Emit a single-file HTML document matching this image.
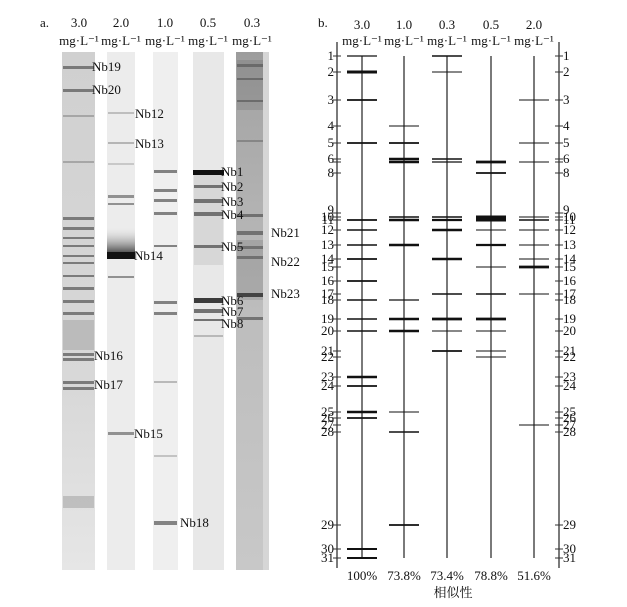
<!DOCTYPE html>
<html><head><style>
html,body{margin:0;padding:0;background:#fff;width:627px;height:607px;overflow:hidden}
svg{display:block;font-family:"Liberation Serif","Noto Serif CJK SC",serif}
</style></head><body>
<svg width="627" height="607" viewBox="0 0 627 607" xmlns="http://www.w3.org/2000/svg">
<defs>
<linearGradient id="g5" x1="0" y1="0" x2="0" y2="1">
<stop offset="0" stop-color="#9c9c9c"/><stop offset="0.12" stop-color="#a8a8a8"/><stop offset="0.5" stop-color="#bdbdbd"/><stop offset="1" stop-color="#c8c8c8"/></linearGradient>
<linearGradient id="g1" x1="0" y1="0" x2="0" y2="1">
<stop offset="0" stop-color="#d0d0d0"/><stop offset="0.65" stop-color="#d8d8d8"/><stop offset="1" stop-color="#e6e6e6"/></linearGradient>
<linearGradient id="smear" x1="0" y1="0" x2="0" y2="1">
<stop offset="0" stop-color="#fff" stop-opacity="0"/><stop offset="1" stop-color="#222" stop-opacity="0.8"/></linearGradient>
</defs>
<g font-size="13" fill="#111">
<text x="40" y="27">a.</text>
<g text-anchor="middle">
<text x="79" y="27">3.0</text><text x="79" y="45">mg·L⁻¹</text>
<text x="121" y="27">2.0</text><text x="121" y="45">mg·L⁻¹</text>
<text x="165" y="27">1.0</text><text x="165" y="45">mg·L⁻¹</text>
<text x="208" y="27">0.5</text><text x="208" y="45">mg·L⁻¹</text>
<text x="252" y="27">0.3</text><text x="252" y="45">mg·L⁻¹</text>
</g></g>
<rect x="62" y="52" width="33" height="518" fill="url(#g1)"/>
<rect x="107" y="52" width="28" height="518" fill="#ececec"/>
<rect x="153" y="52" width="25" height="518" fill="#efefef"/>
<rect x="193" y="52" width="31" height="518" fill="#e8e8e8"/>
<rect x="236" y="52" width="33" height="518" fill="url(#g5)"/>
<rect x="263" y="52" width="6" height="518" fill="#d6d6d6"/>
<g fill="#555">
<g opacity="0.7">
<rect x="63" y="66" width="31" height="3"/><rect x="63" y="89" width="31" height="3"/><rect x="63" y="115" width="31" height="2" opacity=".5"/><rect x="63" y="161" width="31" height="2" opacity=".5"/>
<rect x="63" y="217" width="31" height="3"/><rect x="63" y="227" width="31" height="3"/><rect x="63" y="237" width="31" height="2"/><rect x="63" y="245" width="31" height="2"/><rect x="63" y="255" width="31" height="2"/><rect x="63" y="262" width="31" height="2"/><rect x="63" y="275" width="31" height="2"/><rect x="63" y="287" width="31" height="3"/><rect x="63" y="300" width="31" height="3"/><rect x="63" y="312" width="31" height="3"/>
<rect x="63" y="320" width="31" height="30" opacity=".3"/>
<rect x="63" y="353" width="31" height="3"/><rect x="63" y="358" width="31" height="3"/><rect x="63" y="381" width="31" height="3"/><rect x="63" y="387" width="31" height="3"/>
<rect x="63" y="496" width="31" height="12" opacity=".35"/>
</g>
<g opacity="0.6">
<rect x="108" y="112" width="26" height="2" opacity=".5"/><rect x="108" y="142" width="26" height="2" opacity=".6"/><rect x="108" y="163" width="26" height="2" opacity=".4"/><rect x="108" y="195" width="26" height="3"/><rect x="108" y="203" width="26" height="2"/><rect x="108" y="276" width="26" height="2"/><rect x="108" y="432" width="26" height="3"/>
</g>
<rect x="107" y="225" width="28" height="28" fill="url(#smear)"/>
<rect x="107" y="252" width="28" height="7" fill="#111"/>
<g opacity="0.7">
<rect x="154" y="170" width="23" height="3"/><rect x="154" y="189" width="23" height="3"/><rect x="154" y="199" width="23" height="3"/><rect x="154" y="212" width="23" height="3"/><rect x="154" y="245" width="23" height="2"/><rect x="154" y="301" width="23" height="3"/><rect x="154" y="312" width="23" height="3"/><rect x="154" y="381" width="23" height="2" opacity=".5"/><rect x="154" y="455" width="23" height="2" opacity=".4"/><rect x="154" y="521" width="23" height="4"/>
</g>
<rect x="193" y="170" width="31" height="5" fill="#111"/>
<g opacity="0.8">
<rect x="194" y="185" width="29" height="3"/><rect x="194" y="199" width="29" height="4"/><rect x="194" y="212" width="29" height="4"/><rect x="194" y="245" width="29" height="3"/><rect x="194" y="298" width="29" height="5" fill="#111"/><rect x="194" y="309" width="29" height="4"/><rect x="194" y="319" width="29" height="2"/><rect x="194" y="335" width="29" height="2" opacity=".4"/>
<rect x="194" y="175" width="29" height="90" opacity=".15"/>
</g>
<g opacity="0.7">
<rect x="237" y="60" width="26" height="50" opacity=".25"/>
<rect x="237" y="64" width="26" height="3"/><rect x="237" y="78" width="26" height="2"/><rect x="237" y="100" width="26" height="2"/><rect x="237" y="140" width="26" height="2" opacity=".6"/><rect x="237" y="214" width="26" height="3"/><rect x="237" y="231" width="26" height="4"/><rect x="237" y="246" width="26" height="3"/><rect x="237" y="256" width="26" height="3"/><rect x="237" y="240" width="26" height="60" opacity=".25"/><rect x="237" y="293" width="26" height="4" fill="#111"/><rect x="237" y="317" width="26" height="3"/>
</g>
</g>
<g font-size="13" fill="#111">
<text x="92" y="71">Nb19</text><text x="92" y="94">Nb20</text>
<text x="135" y="118">Nb12</text><text x="135" y="148">Nb13</text>
<text x="134" y="260">Nb14</text><text x="134" y="438">Nb15</text>
<text x="94" y="360">Nb16</text><text x="94" y="389">Nb17</text>
<text x="180" y="527">Nb18</text>
<text x="221" y="176">Nb1</text><text x="221" y="191">Nb2</text><text x="221" y="206">Nb3</text><text x="221" y="219">Nb4</text><text x="221" y="251">Nb5</text>
<text x="221" y="305">Nb6</text><text x="221" y="316">Nb7</text><text x="221" y="328">Nb8</text>
<text x="271" y="237">Nb21</text><text x="271" y="266">Nb22</text><text x="271" y="298">Nb23</text>
</g>
<g font-size="13" fill="#111">
<text x="318" y="27">b.</text>
<g text-anchor="middle">
<text x="362" y="29">3.0</text><text x="362" y="45">mg·L⁻¹</text>
<text x="404" y="29">1.0</text><text x="404" y="45">mg·L⁻¹</text>
<text x="447" y="29">0.3</text><text x="447" y="45">mg·L⁻¹</text>
<text x="491" y="29">0.5</text><text x="491" y="45">mg·L⁻¹</text>
<text x="534" y="29">2.0</text><text x="534" y="45">mg·L⁻¹</text>
<text x="362" y="580">100%</text><text x="404" y="580">73.8%</text><text x="447" y="580">73.4%</text><text x="491" y="580">78.8%</text><text x="534" y="580">51.6%</text>
<text x="453" y="597">相似性</text>
</g></g>
<g stroke="#333" stroke-width="1.3">
<line x1="337" y1="42" x2="337" y2="568"/><line x1="559" y1="42" x2="559" y2="568"/>
<line x1="362" y1="56" x2="362" y2="558"/><line x1="404" y1="56" x2="404" y2="558"/><line x1="447" y1="56" x2="447" y2="558"/><line x1="491" y1="56" x2="491" y2="558"/><line x1="534" y1="56" x2="534" y2="558"/>
</g>
<g id="ticks" stroke="#333" stroke-width="1"></g>
<g id="bands" stroke="#111"></g>
<g id="lbl" font-size="13" fill="#111"></g>
<script>
var Y={1:56,2:72,3:100,4:126,5:143,6:159,7:162,8:173,9:213,10:217,11:220,12:230,13:245,14:259,15:267,16:281,17:294,18:300,19:319,20:331,21:351,22:357,23:377,24:386,25:412,26:418,27:425,28:432,29:525,30:549,31:558};
var NS="http://www.w3.org/2000/svg",t=document.getElementById('ticks'),lb=document.getElementById('lbl'),b=document.getElementById('bands');
function el(p,n,a){var e=document.createElementNS(NS,n);for(var k in a)e.setAttribute(k,a[k]);p.appendChild(e);return e;}
for(var i=1;i<=31;i++){var y=Y[i];el(t,'line',{x1:333,x2:341,y1:y,y2:y});el(t,'line',{x1:555,x2:563,y1:y,y2:y});
var ly=y+4;if(i==7)continue;if(i==9)ly=y+1;
var a=el(lb,'text',{x:334,y:ly,'text-anchor':'end'});a.textContent=i;var c=el(lb,'text',{x:563,y:ly});c.textContent=i;}
var L=[[362,[[1,1.2],[2,3],[3,1.8],[5,1.8],[11,1.8],[12,1.5],[13,1.5],[14,1.8],[16,1.8],[18,1.5],[19,1.5],[20,1.5],[23,2.5],[24,1.8],[25,2.5],[26,1.8],[30,2],[31,2]]],
[404,[[4,1],[5,1.8],[6,2.5],[7,2.5],[10,1.5],[11,2.5],[13,2.5],[18,1.2],[19,2.5],[20,2.5],[25,1],[28,1.5],[29,1.8]]],
[447,[[1,1.5],[2,1],[6,1.5],[7,1.2],[10,1.5],[11,2.2],[12,2.5],[14,2.5],[17,1.5],[19,2.8],[20,1],[21,1.8]]],
[491,[[7,2.8],[8,1.8],[10,3],[11,3],[12,1],[13,2.2],[15,1],[17,1.5],[19,2.8],[20,1],[21,1],[22,1]]],
[534,[[3,1],[5,1],[7,1],[10,1],[11,1.5],[12,1],[13,1],[14,1],[15,2.8],[17,1],[27,1]]]];
L.forEach(function(l){l[1].forEach(function(q){var y=Y[q[0]];el(b,'line',{x1:l[0]-15,x2:l[0]+15,y1:y,y2:y,'stroke-width':q[1]});});});
</script>
</svg>
</body></html>
